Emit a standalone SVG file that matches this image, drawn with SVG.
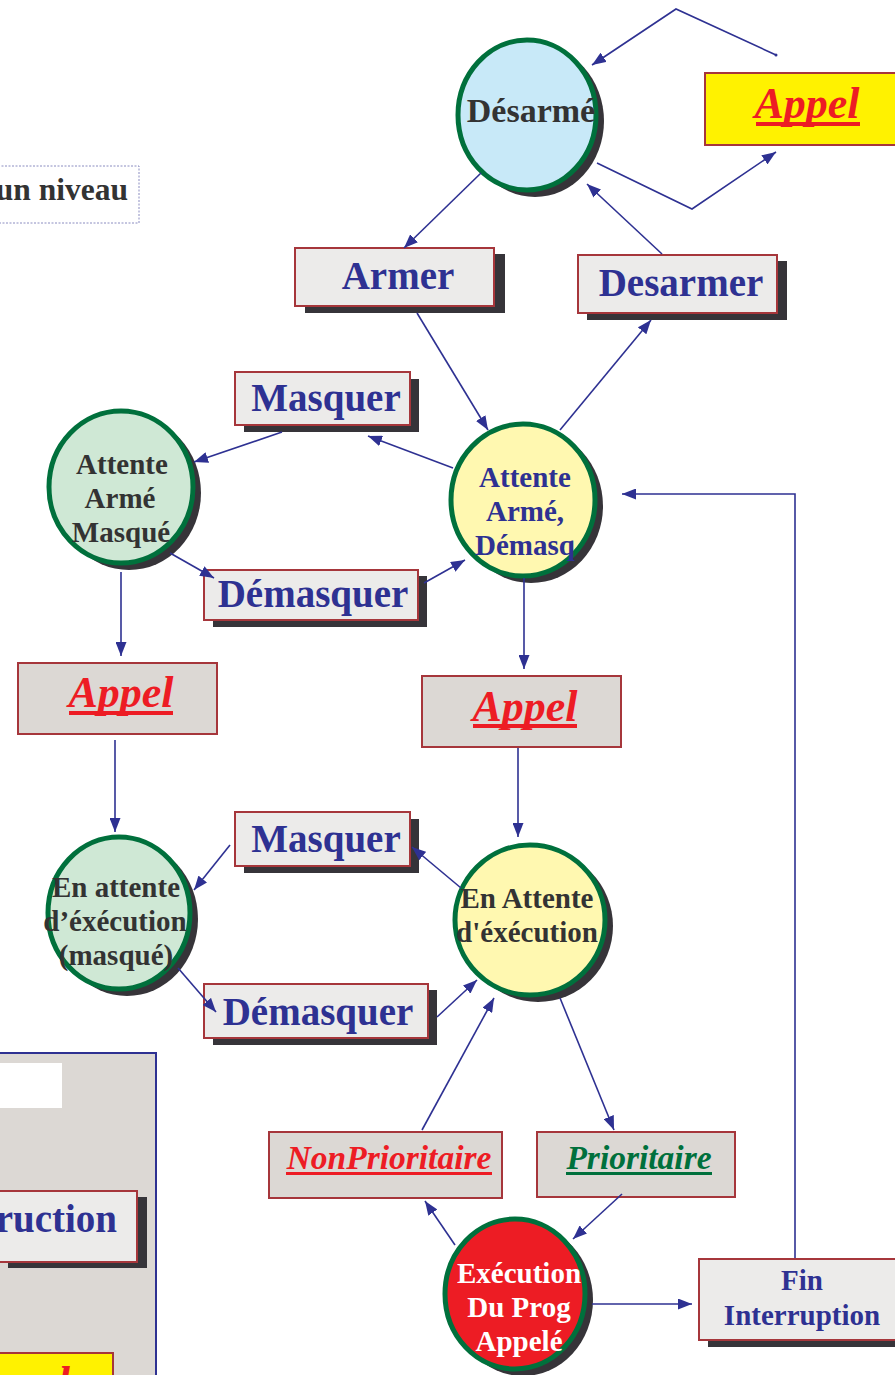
<svg xmlns="http://www.w3.org/2000/svg" width="895" height="1375" viewBox="0 0 895 1375">
  <defs>
    <marker id="arr" viewBox="0 0 14 11" refX="14" refY="5.5" markerWidth="14" markerHeight="11" markerUnits="userSpaceOnUse" orient="auto">
      <path d="M0,0 L14,5.5 L0,11 z" fill="#2e3192"/>
    </marker>
    <style>
      .edge { fill: none; stroke: #2e3192; stroke-width: 1.6; marker-end: url(#arr); }
      .shadow { fill: #363439; }
      .box { fill: #ecebea; stroke: #a6363b; stroke-width: 2; }
      .gbox { fill: #dcd8d4; stroke: #a6363b; stroke-width: 2; }
      .ybox { fill: #fff200; stroke: #a6363b; stroke-width: 2; }
      .ring { stroke: #00703c; stroke-width: 5; }
      .t { font-family: "Liberation Serif", "Times New Roman", serif; font-weight: bold; text-anchor: middle; }
      .lbl { font-size: 39px; fill: #2e3192; }
      .st { font-size: 29px; fill: #333333; }
      .call { font-size: 44px; font-style: italic; fill: #ed1c24; }
      .prio { font-size: 33.5px; font-style: italic; }
      .uline-r { fill: #ed1c24; }
      .uline-g { fill: #00703c; }
    </style>
  </defs>

  <!-- partial panel on the left edge -->
  <g id="panel-left">
    <rect x="-2" y="1053" width="158" height="330" fill="#dcd8d4" stroke="#2e3192" stroke-width="2"/>
    <rect x="-2" y="1063" width="64" height="45" fill="#ffffff"/>
    <rect class="shadow" x="8" y="1197" width="139" height="71"/>
    <rect class="box" x="-2" y="1191" width="139" height="71"/>
    <text class="t lbl" x="117" y="1232" style="text-anchor:end">ruction</text>
    <rect class="ybox" x="-2" y="1353" width="115" height="40"/>
    <text class="t call" x="70" y="1397" style="text-anchor:end">Appel</text>
  </g>

  <g id="niveau">
    <rect x="-2" y="166" width="141" height="57" fill="none" stroke="#8a8cc0" stroke-width="1" stroke-dasharray="2,1.5"/>
    <text class="t" x="128" y="200" style="text-anchor:end;font-size:31.5px;fill:#333333">un niveau</text>
  </g>

  <!-- states -->
  <g id="desarme">
    <ellipse class="shadow" cx="535" cy="121" rx="69" ry="76"/>
    <ellipse class="ring" cx="527" cy="115" rx="69" ry="75" fill="#c8e9f8"/>
    <text class="t" x="531" y="122" style="font-size:34px;fill:#333333">Désarmé</text>
  </g>

  <g id="attente-arme-masque">
    <ellipse class="shadow" cx="129" cy="493" rx="72" ry="77"/>
    <ellipse class="ring" cx="121" cy="487" rx="72" ry="76" fill="#cfe8d5"/>
    <text class="t st" x="122" y="474">Attente</text>
    <text class="t st" x="120" y="508">Armé</text>
    <text class="t st" x="121" y="542">Masqué</text>
  </g>

  <g id="attente-arme-demasque">
    <ellipse class="shadow" cx="531" cy="506" rx="72" ry="77"/>
    <ellipse class="ring" cx="523" cy="500" rx="72" ry="76" fill="#fff8b0"/>
    <text class="t st" x="525" y="487" style="fill:#2e3192">Attente</text>
    <text class="t st" x="525" y="521" style="fill:#2e3192">Armé,</text>
    <text class="t st" x="525" y="555" style="fill:#2e3192">Démasq</text>
  </g>

  <g id="attente-exec-masque">
    <ellipse class="shadow" cx="127" cy="919" rx="71" ry="77"/>
    <ellipse class="ring" cx="119" cy="913" rx="71" ry="76" fill="#cfe8d5"/>
    <text class="t st" x="116" y="897">En attente</text>
    <text class="t st" x="115" y="931">d’éxécution</text>
    <text class="t st" x="116" y="965">(masqué)</text>
  </g>

  <g id="attente-exec">
    <ellipse class="shadow" cx="538" cy="926" rx="75" ry="76"/>
    <ellipse class="ring" cx="530" cy="920" rx="75" ry="75" fill="#fff8b0"/>
    <text class="t st" x="527" y="908">En Attente</text>
    <text class="t st" x="527" y="942">d'éxécution</text>
  </g>

  <g id="execution">
    <ellipse class="shadow" cx="523" cy="1300" rx="70" ry="76"/>
    <ellipse class="ring" cx="515" cy="1294" rx="70" ry="75" fill="#ed1c24"/>
    <text class="t st" x="519" y="1283" style="fill:#ffffff">Exécution</text>
    <text class="t st" x="519" y="1317" style="fill:#ffffff">Du Prog</text>
    <text class="t st" x="519" y="1351" style="fill:#ffffff">Appelé</text>
  </g>

  <!-- transition labels -->
  <g id="appel-top">
    <rect class="ybox" x="705" y="73" width="200" height="72"/>
    <text class="t call" x="807" y="118">Appel</text>
    <rect class="uline-r" x="756" y="122" width="104" height="4"/>
  </g>

  <g id="armer">
    <rect class="shadow" x="305" y="254" width="200" height="59"/>
    <rect class="box" x="295" y="248" width="199" height="58"/>
    <text class="t lbl" x="398" y="289">Armer</text>
  </g>

  <g id="desarmer">
    <rect class="shadow" x="587" y="261" width="200" height="59"/>
    <rect class="box" x="578" y="255" width="199" height="58"/>
    <text class="t lbl" x="681" y="296">Desarmer</text>
  </g>

  <g id="masquer-1">
    <rect class="shadow" x="244" y="379" width="175" height="53"/>
    <rect class="box" x="235" y="372" width="175" height="53"/>
    <text class="t lbl" x="326" y="411">Masquer</text>
  </g>

  <g id="demasquer-1">
    <rect class="shadow" x="213" y="576" width="214" height="51"/>
    <rect class="box" x="204" y="570" width="214" height="50"/>
    <text class="t lbl" x="313" y="607">Démasquer</text>
  </g>

  <g id="appel-left">
    <rect class="gbox" x="18" y="663" width="199" height="71"/>
    <text class="t call" x="121" y="707">Appel</text>
    <rect class="uline-r" x="69" y="711" width="104" height="4"/>
  </g>

  <g id="appel-mid">
    <rect class="gbox" x="422" y="676" width="199" height="71"/>
    <text class="t call" x="525" y="721">Appel</text>
    <rect class="uline-r" x="473" y="724" width="104" height="4"/>
  </g>

  <g id="masquer-2">
    <rect class="shadow" x="244" y="819" width="175" height="54"/>
    <rect class="box" x="235" y="812" width="175" height="54"/>
    <text class="t lbl" x="326" y="852">Masquer</text>
  </g>

  <g id="demasquer-2">
    <rect class="shadow" x="213" y="990" width="224" height="55"/>
    <rect class="box" x="204" y="984" width="224" height="54"/>
    <text class="t lbl" x="318" y="1025">Démasquer</text>
  </g>

  <g id="non-prioritaire">
    <rect class="gbox" x="269" y="1132" width="233" height="66"/>
    <text class="t prio" x="389" y="1169" style="fill:#ed1c24">NonPrioritaire</text>
    <rect class="uline-r" x="286" y="1172" width="206" height="3"/>
  </g>

  <g id="prioritaire">
    <rect class="gbox" x="537" y="1132" width="198" height="65"/>
    <text class="t prio" x="639" y="1169" style="fill:#00703c">Prioritaire</text>
    <rect class="uline-g" x="566" y="1172" width="146" height="3"/>
  </g>

  <g id="fin-interruption">
    <rect class="shadow" x="708" y="1266" width="200" height="81"/>
    <rect class="box" x="699" y="1259" width="210" height="81"/>
    <text class="t" x="802" y="1290" style="font-size:29px;fill:#2e3192">Fin</text>
    <text class="t" x="802" y="1325" style="font-size:29px;fill:#2e3192">Interruption</text>
  </g>

  <!-- connectors -->
  <g id="connectors">
    <polyline class="edge" points="776,55 676,9 592,65"/>
    <circle cx="776" cy="55" r="1.5" fill="#2e3192"/>
    <polyline class="edge" points="597,163 692,209 776,152"/>
    <line class="edge" x1="481" y1="173" x2="404" y2="248"/>
    <line class="edge" x1="662" y1="254" x2="587" y2="184"/>
    <line class="edge" x1="417" y1="313" x2="488" y2="430"/>
    <line class="edge" x1="560" y1="430" x2="651" y2="320"/>
    <line class="edge" x1="453" y1="468" x2="368" y2="436"/>
    <line class="edge" x1="282" y1="432" x2="194" y2="462"/>
    <line class="edge" x1="170" y1="553" x2="214" y2="578"/>
    <line class="edge" x1="424" y1="583" x2="465" y2="560"/>
    <line class="edge" x1="121" y1="572" x2="121" y2="656"/>
    <line class="edge" x1="524" y1="578" x2="524" y2="669"/>
    <line class="edge" x1="115" y1="740" x2="115" y2="832"/>
    <line class="edge" x1="518" y1="748" x2="518" y2="837"/>
    <line class="edge" x1="461" y1="888" x2="412" y2="847"/>
    <line class="edge" x1="230" y1="845" x2="194" y2="890"/>
    <line class="edge" x1="178" y1="968" x2="216" y2="1012"/>
    <line class="edge" x1="437" y1="1017" x2="477" y2="980"/>
    <line class="edge" x1="422" y1="1130" x2="494" y2="998"/>
    <line class="edge" x1="560" y1="998" x2="614" y2="1130"/>
    <line class="edge" x1="622" y1="1194" x2="573" y2="1239"/>
    <line class="edge" x1="455" y1="1245" x2="425" y2="1201"/>
    <line class="edge" x1="592" y1="1304" x2="692" y2="1304"/>
    <polyline class="edge" points="795,1258 795,494 622,494"/>
  </g>
</svg>
